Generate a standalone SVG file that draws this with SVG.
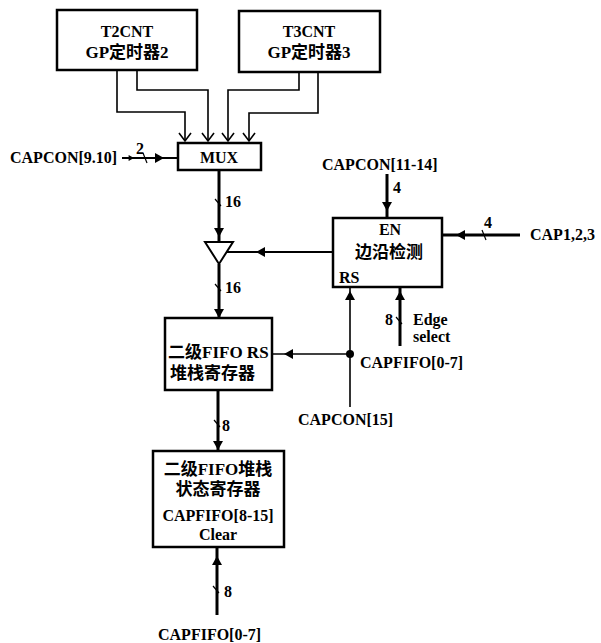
<svg xmlns="http://www.w3.org/2000/svg" width="601" height="643" viewBox="0 0 601 643">
<style>
text{font-family:"Liberation Serif","Noto Sans CJK SC",serif;font-weight:bold;font-size:16px;fill:#000}
.cj{font-size:17px}
.c{text-anchor:middle}
.box{fill:#fff;stroke:#000;stroke-width:2.5}
.thin{fill:none;stroke:#000;stroke-width:1.6}
.bus{fill:none;stroke:#000;stroke-width:3}
.med{fill:none;stroke:#000;stroke-width:2}
.tick{fill:none;stroke:#000;stroke-width:1.2}
</style>
<defs>
<path id="ad" d="M-5,-9 L5,-9 L0,0 Z"/>
</defs>
<rect width="601" height="643" fill="#fff"/>

<g id="connectors">
  <polyline class="thin" points="117,70 117,112 185,112 185,140"/>
  <polyline class="thin" points="137,70 137,90 208,90 208,140"/>
  <polyline class="thin" points="299,72 299,90 228,90 228,140"/>
  <polyline class="thin" points="318,72 318,113 249,113 249,140"/>
  <path class="thin" d="M179,133 L185,141 L191,133 M202,133 L208,141 L214,133 M222,133 L228,141 L234,133 M243,133 L249,141 L255,133"/>
  <line class="med" x1="122" y1="158" x2="178" y2="158"/>
  <use href="#ad" transform="translate(164,158) rotate(-90)"/>
  <use href="#ad" transform="translate(134,158) rotate(-90) scale(0.6)"/>
  <line class="tick" x1="143" y1="153" x2="147" y2="163"/>
  <line class="bus" x1="219" y1="170" x2="219" y2="242"/>
  <use href="#ad" transform="translate(219,237)"/>
  <line class="tick" x1="215" y1="199" x2="221" y2="206"/>
  <line class="bus" x1="219" y1="264" x2="219" y2="318"/>
  <use href="#ad" transform="translate(219,318)"/>
  <line class="tick" x1="215" y1="284" x2="221" y2="291"/>
  <line class="med" x1="333" y1="252" x2="227" y2="252"/>
  <use href="#ad" transform="translate(256,252) rotate(90)"/>
  <line class="bus" x1="387" y1="174" x2="387" y2="218"/>
  <use href="#ad" transform="translate(387,211)"/>
  <line class="bus" x1="520" y1="235" x2="442" y2="235"/>
  <use href="#ad" transform="translate(456,235) rotate(90)"/>
  <line class="tick" x1="482" y1="230" x2="486" y2="240"/>
  <line class="thin" x1="350" y1="407" x2="350" y2="287"/>
  <use href="#ad" transform="translate(350,291) rotate(180)"/>
  <circle cx="350" cy="354" r="4" fill="#000"/>
  <line class="thin" x1="350" y1="354" x2="272" y2="354"/>
  <use href="#ad" transform="translate(284,354) rotate(90)"/>
  <line class="bus" x1="400" y1="346" x2="400" y2="287"/>
  <use href="#ad" transform="translate(400,291) rotate(180)"/>
  <line class="tick" x1="396" y1="317" x2="402" y2="324"/>
  <line class="bus" x1="218" y1="390" x2="218" y2="451"/>
  <use href="#ad" transform="translate(218,450)"/>
  <line class="tick" x1="214" y1="420" x2="220" y2="427"/>
  <line class="bus" x1="217" y1="615" x2="217" y2="547"/>
  <use href="#ad" transform="translate(217,556) rotate(180)"/>
  <line class="tick" x1="213" y1="586" x2="219" y2="593"/>
</g>

<g id="t2cnt">
  <rect class="box" x="57" y="10" width="140" height="60"/>
  <text class="c" x="127" y="37">T2CNT</text>
  <text class="c cj" x="127" y="58">GP定时器2</text>
</g>
<g id="t3cnt">
  <rect class="box" x="239" y="11" width="141" height="61"/>
  <text class="c" x="309" y="37">T3CNT</text>
  <text class="c cj" x="309" y="58">GP定时器3</text>
</g>
<g id="mux">
  <rect class="box" x="178" y="143" width="83" height="27"/>
  <text class="c" x="219" y="163">MUX</text>
</g>
<g id="buffer">
  <polygon points="205,242 233,242 219,264" fill="#fff" stroke="#000" stroke-width="2"/>
</g>
<g id="edge-detect">
  <rect class="box" x="333" y="218" width="109" height="69"/>
  <text class="c" x="390" y="235">EN</text>
  <text class="c cj" x="389" y="258">边沿检测</text>
  <text x="339" y="283">RS</text>
</g>
<g id="fifo1">
  <rect class="box" x="165" y="318" width="107" height="72"/>
  <text class="cj" x="168" y="358">二级FIFO RS</text>
  <text class="cj" x="170" y="379">堆栈寄存器</text>
</g>
<g id="fifo2">
  <rect class="box" x="153" y="451" width="131" height="96"/>
  <text class="c cj" x="218" y="475">二级FIFO堆栈</text>
  <text class="c cj" x="218" y="495">状态寄存器</text>
  <text class="c" x="218" y="521">CAPFIFO[8-15]</text>
  <text class="c" x="218" y="540">Clear</text>
</g>
<g id="labels">
  <text x="10" y="163">CAPCON[9.10]</text>
  <text x="136" y="154">2</text>
  <text x="225" y="207">16</text>
  <text x="225" y="293">16</text>
  <text x="322" y="170">CAPCON[11-14]</text>
  <text x="393" y="193">4</text>
  <text x="484" y="228">4</text>
  <text x="530" y="240">CAP1,2,3</text>
  <text x="385" y="325">8</text>
  <text x="413" y="325">Edge</text>
  <text x="413" y="342">select</text>
  <text x="360" y="368">CAPFIFO[0-7]</text>
  <text x="298" y="425">CAPCON[15]</text>
  <text x="222" y="431">8</text>
  <text x="224" y="597">8</text>
  <text x="158" y="640">CAPFIFO[0-7]</text>
</g>
</svg>
